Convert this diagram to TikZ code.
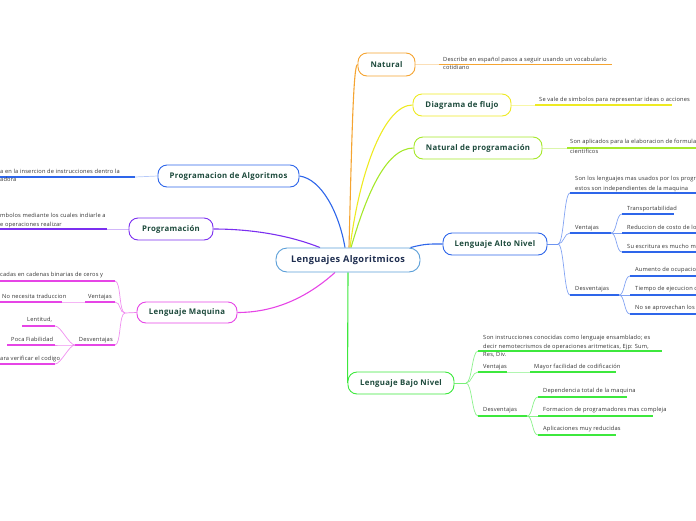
\documentclass[tikz,border=0pt]{standalone}
\usepackage{fontspec}
\setmainfont{Open Sans}
\newfontfamily\titlefont{Open Sans}[LetterSpace=4]
\newfontfamily\descfont{Open Sans}[LetterSpace=3]
\usetikzlibrary{backgrounds}
\definecolor{cOrange}{HTML}{F5A431}
\definecolor{cYellow}{HTML}{EEEA22}
\definecolor{cLime}{HTML}{A6E82A}
\definecolor{cBlue}{HTML}{2E66EA}
\definecolor{cGreen}{HTML}{3DE83D}
\definecolor{cPurple}{HTML}{7B2FF0}
\definecolor{cMag}{HTML}{E645E6}
\definecolor{cCentral}{HTML}{5B9FD8}
\definecolor{titlec}{HTML}{1D4A3C}
\definecolor{centralt}{HTML}{1E2D4F}
\definecolor{descc}{HTML}{333333}
\tikzset{
  main/.style={draw, line width=0.9pt, rounded corners=9pt, fill=white, inner sep=0pt,
    font=\titlefont\fontsize{7.8}{9}\selectfont\bfseries, text=titlec},
  desc/.style={inner sep=0pt, anchor=base west, font=\descfont\fontsize{5.7}{6.5}\selectfont, text=descc},
  descr/.style={desc, anchor=base east},
  conn/.style={line width=1.1pt},
  ul/.style={line width=1.3pt},
  lite/.style={line width=0.7pt},
}
\begin{document}
\begin{tikzpicture}[x=1pt,y=-1pt]
\useasboundingbox (0,0) rectangle (696,520);
\clip (0,0) rectangle (696,520);

% ---------- main boxes ----------
\node[main, draw=cCentral, minimum width=144pt, minimum height=24pt, rounded corners=11pt,
  font=\titlefont\fontsize{9.2}{10}\selectfont\bfseries, text=centralt] (c) at (348,260) {Lenguajes Algoritmicos};
\node[main, draw=cOrange, minimum width=57pt, minimum height=23pt] (nat) at (386.5,64.5) {Natural};
\node[main, draw=cYellow, minimum width=98pt, minimum height=22pt] (dia) at (462,105) {Diagrama de flujo};
\node[main, draw=cLime, minimum width=128pt, minimum height=22pt] (np) at (478,148) {Natural de programación};
\node[main, draw=cBlue, minimum width=104pt, minimum height=22pt] (alto) at (495,244) {Lenguaje Alto Nivel};
\node[main, draw=cGreen, minimum width=106pt, minimum height=22pt] (bn) at (401,383) {Lenguaje Bajo Nivel};
\node[main, draw=cBlue, minimum width=141pt, minimum height=22pt] (pa) at (228.5,176) {Programacion de Algoritmos};
\node[main, draw=cPurple, minimum width=84pt, minimum height=22pt] (pr) at (171,229) {Programación};
\node[main, draw=cMag, minimum width=100pt, minimum height=21pt] (lm) at (187,312.5) {Lenguaje Maquina};

% ---------- texts ----------
\node[desc] (natd1) at (443,61) {Describe en español pasos a seguir usando un vocabulario};
\node[desc] (natd2) at (443,69) {cotidiano};
\node[desc] (diad) at (539,101) {Se vale de simbolos para representar ideas o acciones};
\node[desc] (npd1) at (570,143) {Son aplicados para la elaboracion de formula};
\node[desc] (npd2) at (570,153) {cientificos};

\node[desc] (a1a) at (575,180) {Son los lenguajes mas usados por los progr};
\node[desc] (a1b) at (575,190) {estos son independientes de la maquina};
\node[desc] (a2) at (575,229) {Ventajas};
\node[desc] (a21) at (627,210) {Transportabilidad};
\node[desc] (a22) at (627,229) {Reduccion de costo de lo};
\node[desc] (a23) at (627,248) {Su escritura es mucho m};
\node[desc] (a3) at (575,290) {Desventajas};
\node[desc] (a31) at (635,271) {Aumento de ocupacio};
\node[desc] (a32) at (635,290) {Tiempo de ejecucion d};
\node[desc] (a33) at (635,309) {No se aprovechan los};

\node[desc] (b1a) at (483,339) {Son instrucciones conocidas como lenguaje ensamblado; es};
\node[desc] (b1b) at (483,348) {decir nemotecrismos de operaciones aritmeticas, Ejp: Sum,};
\node[desc] (b1c) at (483,356) {Res, Div.};
\node[desc] (b2) at (483,368) {Ventajas};
\node[desc] (b21) at (534,368) {Mayor facilidad de codificación};
\node[desc] (b3) at (483,411) {Desventajas};
\node[desc] (b31) at (543,392) {Dependencia total de la maquina};
\node[desc] (b32) at (543,411) {Formacion de programadores mas compleja};
\node[desc] (b33) at (543,430) {Aplicaciones muy reducidas};

\node[desc] (pad1) at (0,173) {a en la insercion de instrucciones dentro la};
\node[desc] (pad2) at (0,181) {adora};
\node[desc] (prd1) at (0,217) {mbolos mediante los cuales indiarle a};
\node[desc] (prd2) at (0,226) {e operaciones realizar};

\node[desc] (m1) at (0,276) {cadas en cadenas binarias de ceros y};
\node[descr] (m2) at (112,298) {Ventajas};
\node[desc] (m21) at (2,298) {No necesita traduccion};
\node[descr] (m3) at (113,341) {Desventajas};
\node[desc] (m31) at (27,321) {Lentitud,};
\node[desc] (m32) at (11,341) {Poca Fiabilidad};
\node[desc] (m33) at (0,360) {ara verificar el codigo};

% ---------- coordinates ----------
\coordinate (natU1) at (439,64.5); \coordinate (natU2) at (612,64.5);
\coordinate (diaU1) at (535,105); \coordinate (diaU2) at (672,105);
\coordinate (npU1) at (567,148); \coordinate (npU2) at (700,148);

\coordinate (aB) at (558,244);
\coordinate (a1U) at (570,193); \coordinate (a1E) at (700,193);
\coordinate (a2U) at (570,233); \coordinate (a2E) at (611,233);
\coordinate (a21U) at (622,214); \coordinate (a21E) at (674,214);
\coordinate (a22U) at (622,233); \coordinate (a22E) at (700,233);
\coordinate (a23U) at (622,252); \coordinate (a23E) at (700,252);
\coordinate (a3U) at (570,295); \coordinate (a3E) at (619,295);
\coordinate (a31U) at (630,276); \coordinate (a31E) at (700,276);
\coordinate (a32U) at (630,295); \coordinate (a32E) at (700,295);
\coordinate (a33U) at (630,314); \coordinate (a33E) at (700,314);

\coordinate (bB) at (466,383);
\coordinate (b1U) at (478,351); \coordinate (b1E) at (662,351);
\coordinate (b2U) at (478,372); \coordinate (b2E) at (507,372);
\coordinate (b21U) at (530,372); \coordinate (b21E) at (616,372);
\coordinate (b3U) at (478,416); \coordinate (b3E) at (527,416);
\coordinate (b31U) at (538,397); \coordinate (b31E) at (627,397);
\coordinate (b32U) at (538,416); \coordinate (b32E) at (653,416);
\coordinate (b33U) at (538,435); \coordinate (b33E) at (616,435);

\coordinate (paU1) at (135,177); \coordinate (paU2) at (-5,177);
\coordinate (prU1) at (107,229); \coordinate (prU2) at (-5,229);

\coordinate (mB) at (125,313);
\coordinate (m1U) at (115,281); \coordinate (m1E) at (-5,281);
\coordinate (m2U) at (115,302); \coordinate (m2E) at (85,302);
\coordinate (m21U) at (62,302); \coordinate (m21E) at (-5,302);
\coordinate (m3U) at (115,345); \coordinate (m3E) at (75,345);
\coordinate (m31U) at (55,326); \coordinate (m31E) at (22,326);
\coordinate (m32U) at (55,345); \coordinate (m32E) at (7,345);
\coordinate (m33U) at (55,364); \coordinate (m33E) at (-5,364);

% ---------- connectors ----------
\begin{scope}[on background layer]
\draw[conn, cOrange] ([xshift=1pt]c.north) .. controls +(3,-120) and +(-4,0) .. (nat.west);
\draw[conn, cYellow] ([xshift=2pt]c.north) .. controls +(10,-78) and +(-28,0) .. (dia.west);
\draw[conn, cLime] ([xshift=3pt]c.north) .. controls +(14,-48) and +(-29,0) .. (np.west);
\draw[conn, cBlue] ([xshift=-10pt]c.north east) .. controls +(15,-4) and +(-12,0) .. (alto.west);
\draw[conn, cGreen] (c.south) -- (bn.west);
\draw[conn, cBlue] (pa.east) .. controls +(22,3) and +(-6,-35) .. ([xshift=-3pt]c.north);
\draw[conn, cPurple] (pr.east) .. controls +(45,0) and +(-25,-10) .. ([xshift=-28pt]c.north);
\draw[conn, cMag] (lm.east) .. controls +(45,0) and +(-20,18) .. ([xshift=-13pt]c.south);

% Natural
\draw[lite, cOrange!35] (nat.east) -- (natU1);
\draw[ul, cOrange] (natU1) -- (natU2);
% Diagrama
\draw[lite, cYellow!40] (dia.east) -- (diaU1);
\draw[ul, cYellow] (diaU1) -- (diaU2);
% Natural de programacion
\draw[lite, cLime!40] (np.east) -- (npU1);
\draw[ul, cLime] (npU1) -- (npU2);

% Alto nivel
\draw[lite, cBlue!70] (alto.east) -- (aB);
\foreach \t in {a1U,a2U,a3U}
  \draw[lite, cBlue!60] (aB) .. controls +(6,0) and +(-6,0) .. (\t);
\draw[ul, cBlue] (a1U) -- (a1E);
\draw[ul, cBlue] (a2U) -- (a2E);
\draw[ul, cBlue] (a3U) -- (a3E);
\foreach \t in {a21U,a22U,a23U}
  \draw[lite, cBlue!60] (a2E) .. controls +(6,0) and +(-6,0) .. (\t);
\foreach \t in {a31U,a32U,a33U}
  \draw[lite, cBlue!60] (a3E) .. controls +(6,0) and +(-6,0) .. (\t);
\draw[ul, cBlue] (a21U) -- (a21E);
\draw[ul, cBlue] (a22U) -- (a22E);
\draw[ul, cBlue] (a23U) -- (a23E);
\draw[ul, cBlue] (a31U) -- (a31E);
\draw[ul, cBlue] (a32U) -- (a32E);
\draw[ul, cBlue] (a33U) -- (a33E);

% Bajo nivel
\draw[lite, cGreen!70] (bn.east) -- (bB);
\foreach \t in {b1U,b2U,b3U}
  \draw[lite, cGreen!60] (bB) .. controls +(6,0) and +(-6,0) .. (\t);
\draw[ul, cGreen] (b1U) -- (b1E);
\draw[ul, cGreen] (b2U) -- (b2E);
\draw[lite, cGreen!40] (b2E) -- (b21U);
\draw[ul, cGreen] (b21U) -- (b21E);
\draw[ul, cGreen] (b3U) -- (b3E);
\foreach \t in {b31U,b32U,b33U}
  \draw[lite, cGreen!60] (b3E) .. controls +(6,0) and +(-6,0) .. (\t);
\draw[ul, cGreen] (b31U) -- (b31E);
\draw[ul, cGreen] (b32U) -- (b32E);
\draw[ul, cGreen] (b33U) -- (b33E);

% Programacion de Algoritmos
\draw[lite, cBlue!35] (pa.west) -- (paU1);
\draw[ul, cBlue] (paU1) -- (paU2);
% Programacion
\draw[lite, cPurple!35] (pr.west) -- (prU1);
\draw[ul, cPurple] (prU1) -- (prU2);

% Lenguaje Maquina
\draw[lite, cMag!70] (lm.west) -- (mB);
\foreach \t in {m1U,m2U,m3U}
  \draw[lite, cMag!60] (mB) .. controls +(-6,0) and +(6,0) .. (\t);
\draw[ul, cMag] (m1U) -- (m1E);
\draw[ul, cMag] (m2U) -- (m2E);
\draw[lite, cMag!40] (m2E) -- (m21U);
\draw[ul, cMag] (m21U) -- (m21E);
\draw[ul, cMag] (m3U) -- (m3E);
\foreach \t in {m31U,m32U,m33U}
  \draw[lite, cMag!60] (m3E) .. controls +(-6,0) and +(6,0) .. (\t);
\draw[ul, cMag] (m31U) -- (m31E);
\draw[ul, cMag] (m32U) -- (m32E);
\draw[ul, cMag] (m33U) -- (m33E);
\end{scope}
\end{tikzpicture}
\end{document}
